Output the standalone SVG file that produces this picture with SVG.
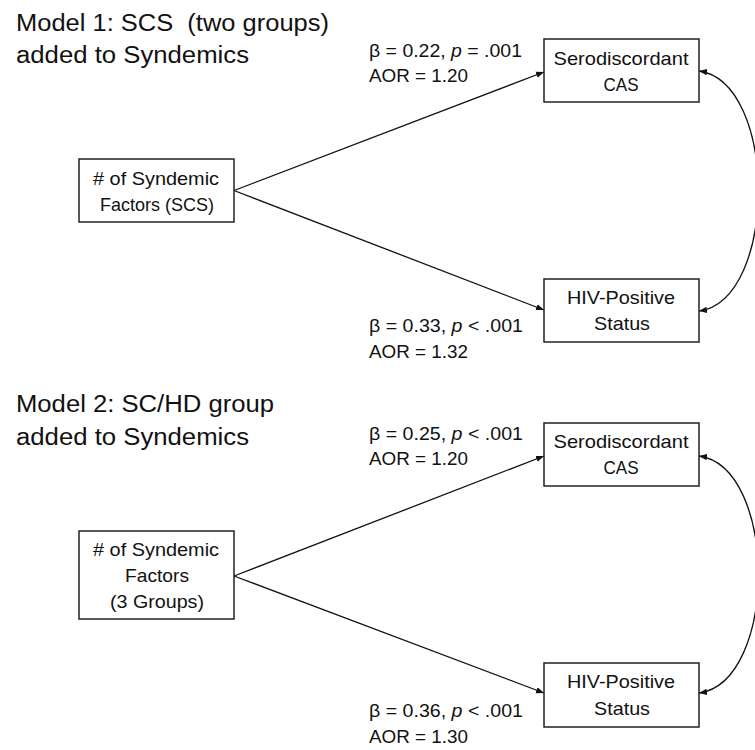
<svg xmlns="http://www.w3.org/2000/svg" width="755" height="750" viewBox="0 0 755 750">
<defs>
<marker id="ah" viewBox="0 0 10 10" refX="10" refY="5" markerWidth="8" markerHeight="8" markerUnits="userSpaceOnUse" orient="auto-start-reverse">
<path d="M0,1 L10,5 L0,9 z" fill="#111"/>
</marker>
<style>
.t{font-family:"Liberation Sans",Arial,sans-serif;fill:#111}
.title{font-size:23px}
.lab{font-size:17.5px}
.bx{font-size:18.5px;text-anchor:middle}
.box{fill:#fff;stroke:#222;stroke-width:1.5}
.ln{fill:none;stroke:#111;stroke-width:1.3}
</style>
</defs>
<rect width="755" height="750" fill="#fff"/>

<g id="titles">
<text class="t title" x="16" y="31" textLength="313" lengthAdjust="spacingAndGlyphs" xml:space="preserve" style="white-space:pre">Model 1: SCS  (two groups)</text>
<text class="t title" x="16" y="63" textLength="233" lengthAdjust="spacingAndGlyphs">added to Syndemics</text>
<text class="t title" x="16" y="412" textLength="258" lengthAdjust="spacingAndGlyphs">Model 2: SC/HD group</text>
<text class="t title" x="16" y="445" textLength="233" lengthAdjust="spacingAndGlyphs">added to Syndemics</text>
</g>

<g id="labels">
<text class="t lab" x="369" y="57" textLength="153" lengthAdjust="spacingAndGlyphs">β = 0.22, <tspan font-style="italic">p</tspan> = .001</text>
<text class="t lab" x="369" y="82" textLength="99" lengthAdjust="spacingAndGlyphs">AOR = 1.20</text>
<text class="t lab" x="369" y="332" textLength="154" lengthAdjust="spacingAndGlyphs">β = 0.33, <tspan font-style="italic">p</tspan> &lt; .001</text>
<text class="t lab" x="369" y="358" textLength="99" lengthAdjust="spacingAndGlyphs">AOR = 1.32</text>
<text class="t lab" x="369" y="440" textLength="154" lengthAdjust="spacingAndGlyphs">β = 0.25, <tspan font-style="italic">p</tspan> &lt; .001</text>
<text class="t lab" x="369" y="465" textLength="99" lengthAdjust="spacingAndGlyphs">AOR = 1.20</text>
<text class="t lab" x="369" y="717" textLength="154" lengthAdjust="spacingAndGlyphs">β = 0.36, <tspan font-style="italic">p</tspan> &lt; .001</text>
<text class="t lab" x="369" y="743" textLength="99" lengthAdjust="spacingAndGlyphs">AOR = 1.30</text>
</g>

<g id="connectors">
<line class="ln" x1="234" y1="190.5" x2="544" y2="72" marker-end="url(#ah)"/>
<line class="ln" x1="234" y1="190.5" x2="544" y2="310" marker-end="url(#ah)"/>
<path class="ln" d="M699,71 C778,82 778,300 699,311" marker-start="url(#ah)" marker-end="url(#ah)"/>
<line class="ln" x1="234" y1="576" x2="544" y2="456" marker-end="url(#ah)"/>
<line class="ln" x1="234" y1="576" x2="544" y2="693" marker-end="url(#ah)"/>
<path class="ln" d="M699,456 C778,467 778,682 699,693" marker-start="url(#ah)" marker-end="url(#ah)"/>
</g>

<g id="m1-scs">
<rect class="box" x="79" y="159" width="155" height="63"/>
<text class="t bx" x="156" y="185" textLength="126" lengthAdjust="spacingAndGlyphs"># of Syndemic</text>
<text class="t bx" x="157" y="211" textLength="114" lengthAdjust="spacingAndGlyphs">Factors (SCS)</text>
</g>
<g id="m1-cas">
<rect class="box" x="544" y="39" width="155" height="63"/>
<text class="t bx" x="621" y="65" textLength="135" lengthAdjust="spacingAndGlyphs">Serodiscordant</text>
<text class="t bx" x="621" y="91" textLength="35" lengthAdjust="spacingAndGlyphs">CAS</text>
</g>
<g id="m1-hiv">
<rect class="box" x="544" y="279" width="155" height="63"/>
<text class="t bx" x="621" y="304" textLength="108" lengthAdjust="spacingAndGlyphs">HIV-Positive</text>
<text class="t bx" x="622" y="330" textLength="56" lengthAdjust="spacingAndGlyphs">Status</text>
</g>

<g id="m2-sc">
<rect class="box" x="79" y="531" width="155" height="88"/>
<text class="t bx" x="156" y="556" textLength="126" lengthAdjust="spacingAndGlyphs"># of Syndemic</text>
<text class="t bx" x="157" y="582" textLength="64" lengthAdjust="spacingAndGlyphs">Factors</text>
<text class="t bx" x="157" y="608" textLength="94" lengthAdjust="spacingAndGlyphs">(3 Groups)</text>
</g>
<g id="m2-cas">
<rect class="box" x="544" y="423" width="155" height="63"/>
<text class="t bx" x="621" y="448" textLength="135" lengthAdjust="spacingAndGlyphs">Serodiscordant</text>
<text class="t bx" x="621" y="474" textLength="35" lengthAdjust="spacingAndGlyphs">CAS</text>
</g>
<g id="m2-hiv">
<rect class="box" x="544" y="663" width="155" height="64"/>
<text class="t bx" x="621" y="688" textLength="108" lengthAdjust="spacingAndGlyphs">HIV-Positive</text>
<text class="t bx" x="622" y="715" textLength="56" lengthAdjust="spacingAndGlyphs">Status</text>
</g>
</svg>
